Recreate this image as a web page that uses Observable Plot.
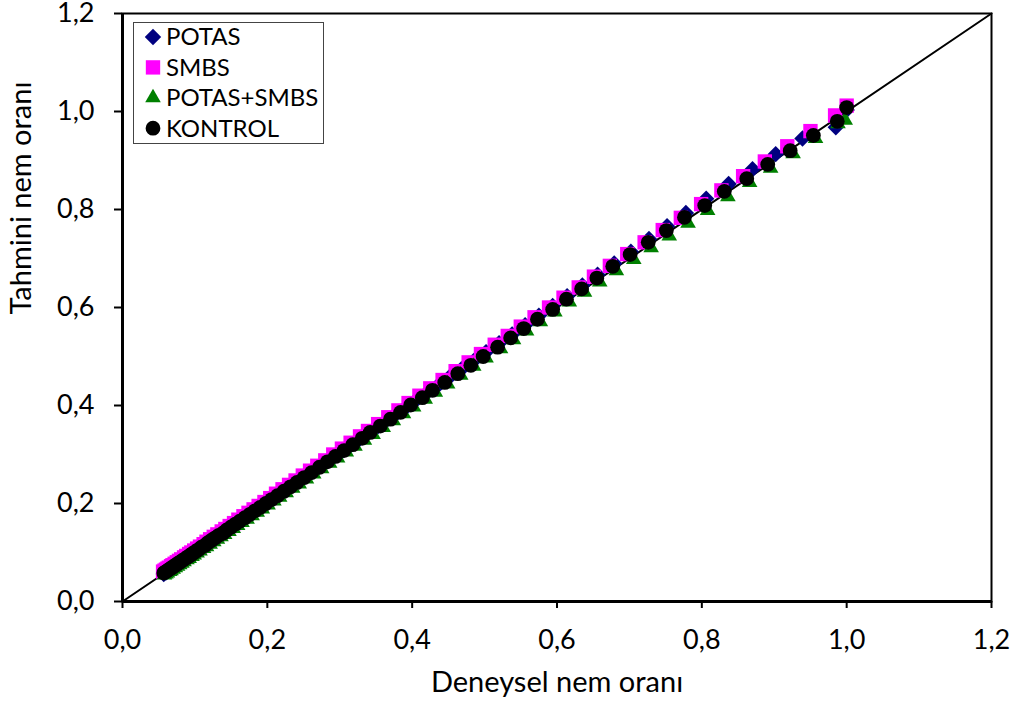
<!DOCTYPE html>
<html><head><meta charset="utf-8">
<script src="https://cdn.jsdelivr.net/npm/d3@7"></script>
<script src="https://cdn.jsdelivr.net/npm/@observablehq/plot@0.6"></script>
<style>
body{margin:0;background:#fff;font-family:Lato,sans-serif;}
#wrap{position:relative;width:1021px;height:706px;}
#legend{position:absolute;left:0;top:0;}
</style></head><body><div id="wrap"></div>
<script>
const seriesNames = ["POTAS", "SMBS", "POTAS+SMBS", "KONTROL"];
const seriesColors = ["#000080", "#ff00ff", "#008000", "#000000"];
const seriesSymbols = ["diamond2", "square", "triangle", "circle"];
const seriesR = [7.4, 8.1, 5.8, 7.4];

const xTicks = [0, 0.2, 0.4, 0.6, 0.8, 1.0, 1.2];
const yTicks = [0, 0.2, 0.4, 0.6, 0.8, 1.0, 1.2];
const refLine = [0, 1.2];

const potasExp = [1.000,0.985,0.939,0.902,0.870,0.837,0.806,0.778,0.752,0.727,0.702,0.679,0.656,0.635,0.614,0.594,0.575,0.556,0.538,0.520,0.502,0.485,0.468,0.451,0.435,0.419,0.404,0.390,0.376,0.362,0.349,0.336,0.324,0.312,0.300,0.289,0.278,0.268,0.258,0.248,0.239,0.230,0.221,0.213,0.205,0.197,0.190,0.183,0.176,0.169,0.163,0.157,0.151,0.145,0.140,0.134,0.129,0.124,0.119,0.115,0.110,0.106,0.102,0.098,0.095,0.091,0.088,0.084,0.081,0.078,0.075,0.072,0.069,0.067,0.064,0.062,0.060,0.057];
const potasPred = [1.003,0.968,0.945,0.913,0.882,0.852,0.822,0.793,0.766,0.740,0.714,0.690,0.667,0.645,0.623,0.603,0.583,0.564,0.545,0.527,0.509,0.491,0.474,0.457,0.440,0.424,0.409,0.394,0.380,0.366,0.352,0.339,0.327,0.314,0.302,0.291,0.280,0.270,0.259,0.249,0.240,0.231,0.222,0.214,0.206,0.198,0.190,0.183,0.176,0.169,0.163,0.157,0.151,0.145,0.139,0.134,0.129,0.124,0.119,0.114,0.110,0.106,0.102,0.098,0.094,0.091,0.087,0.084,0.081,0.078,0.075,0.072,0.069,0.066,0.064,0.061,0.059,0.056];

const smbsExp = [1.000,0.984,0.950,0.918,0.887,0.857,0.827,0.799,0.771,0.746,0.721,0.697,0.673,0.651,0.630,0.609,0.589,0.569,0.550,0.532,0.514,0.495,0.478,0.460,0.442,0.425,0.410,0.395,0.381,0.367,0.353,0.339,0.328,0.315,0.303,0.291,0.280,0.269,0.259,0.249,0.239,0.230,0.221,0.212,0.204,0.196,0.188,0.181,0.174,0.167,0.160,0.154,0.148,0.142,0.137,0.131,0.126,0.121,0.116,0.112,0.107,0.103,0.099,0.095,0.092,0.088,0.085,0.081,0.078,0.075,0.072,0.069,0.067,0.064,0.062,0.060,0.058,0.056];
const smbsPred = [1.012,0.992,0.960,0.929,0.898,0.868,0.839,0.811,0.783,0.758,0.733,0.709,0.685,0.663,0.641,0.620,0.600,0.580,0.561,0.542,0.524,0.505,0.488,0.470,0.452,0.435,0.420,0.405,0.390,0.376,0.362,0.348,0.337,0.324,0.312,0.300,0.288,0.277,0.267,0.257,0.247,0.238,0.229,0.220,0.211,0.203,0.195,0.188,0.181,0.174,0.167,0.160,0.154,0.148,0.143,0.137,0.132,0.127,0.122,0.117,0.112,0.108,0.104,0.100,0.097,0.093,0.090,0.086,0.083,0.080,0.077,0.074,0.072,0.069,0.067,0.065,0.063,0.061];

const mixExp = [0.998,0.988,0.957,0.926,0.895,0.866,0.836,0.808,0.781,0.755,0.730,0.706,0.682,0.659,0.638,0.617,0.597,0.577,0.558,0.540,0.522,0.502,0.485,0.467,0.449,0.432,0.418,0.402,0.388,0.374,0.360,0.346,0.334,0.321,0.309,0.297,0.286,0.275,0.264,0.254,0.244,0.235,0.226,0.217,0.209,0.201,0.193,0.186,0.179,0.172,0.165,0.159,0.153,0.147,0.141,0.136,0.131,0.126,0.121,0.116,0.112,0.107,0.103,0.099,0.096,0.092,0.089,0.085,0.082,0.079,0.076,0.073,0.070,0.067,0.065,0.062,0.060,0.058];
const mixPred = [0.982,0.975,0.945,0.914,0.884,0.855,0.826,0.798,0.772,0.746,0.722,0.698,0.675,0.652,0.631,0.611,0.591,0.571,0.552,0.534,0.516,0.497,0.480,0.462,0.444,0.427,0.413,0.397,0.383,0.369,0.355,0.341,0.329,0.317,0.305,0.293,0.282,0.271,0.260,0.250,0.240,0.231,0.222,0.213,0.205,0.197,0.189,0.182,0.175,0.168,0.161,0.155,0.149,0.143,0.137,0.132,0.127,0.122,0.117,0.112,0.108,0.103,0.099,0.095,0.092,0.088,0.085,0.081,0.078,0.075,0.072,0.069,0.066,0.063,0.061,0.058,0.056,0.054];

const kontrolExp = [1.000,0.987,0.954,0.922,0.891,0.862,0.831,0.804,0.776,0.751,0.726,0.701,0.677,0.655,0.634,0.613,0.594,0.573,0.554,0.536,0.518,0.498,0.481,0.463,0.445,0.428,0.414,0.398,0.384,0.370,0.356,0.342,0.331,0.318,0.306,0.294,0.283,0.272,0.261,0.251,0.241,0.232,0.223,0.214,0.206,0.198,0.190,0.183,0.176,0.169,0.162,0.156,0.150,0.144,0.139,0.133,0.128,0.123,0.118,0.114,0.109,0.105,0.101,0.097,0.094,0.090,0.087,0.083,0.080,0.077,0.074,0.071,0.068,0.066,0.063,0.061,0.059,0.057];
const kontrolPred = [1.008,0.980,0.951,0.920,0.892,0.863,0.837,0.808,0.784,0.757,0.733,0.708,0.684,0.660,0.638,0.617,0.596,0.576,0.557,0.538,0.519,0.500,0.482,0.465,0.447,0.431,0.416,0.401,0.386,0.372,0.358,0.345,0.333,0.320,0.308,0.296,0.285,0.274,0.263,0.253,0.243,0.234,0.225,0.216,0.208,0.200,0.192,0.185,0.178,0.171,0.164,0.158,0.152,0.146,0.140,0.135,0.130,0.125,0.120,0.115,0.111,0.106,0.102,0.098,0.095,0.091,0.088,0.084,0.081,0.078,0.075,0.072,0.069,0.067,0.064,0.062,0.060,0.058];

const seriesExp = [potasExp, smbsExp, mixExp, kontrolExp];
const seriesPred = [potasPred, smbsPred, mixPred, kontrolPred];

const fmt = d => d.toFixed(1).replace(".", ",");

const tables = seriesExp.map((ex, i) =>
  ex.slice(0, Math.min(ex.length, seriesPred[i].length)).map((x, j) => ({x, y: seriesPred[i][j]})));

const dotMarks = tables.map((t, i) => Plot.dot(t, {
  x: "x", y: "y", symbol: seriesSymbols[i], r: seriesR[i],
  fill: seriesColors[i], stroke: "none"
}));

const W = 1021, H = 706;
const chart = Plot.plot({
  width: W, height: H,
  marginLeft: 122, marginRight: 30, marginTop: 13, marginBottom: 105,
  style: {fontFamily: "Lato, sans-serif", fontSize: "27px", color: "#000", background: "#fff", overflow: "visible"},
  x: {domain: [0, 1.2]},
  y: {domain: [0, 1.2]},
  marks: [
    Plot.line(refLine, {x: d => d, y: d => d, stroke: "#000", strokeWidth: 2}),
    ...dotMarks,
    Plot.frame({stroke: "#000", strokeWidth: 2}),
    Plot.ruleX([0], {stroke: "#000", strokeWidth: 3}),
    Plot.ruleY([0], {stroke: "#000", strokeWidth: 3}),
    Plot.axisX({ticks: xTicks, tickFormat: fmt, tickSize: 7, tickPadding: 21, fontSize: 27, label: null, strokeWidth: 2}),
    Plot.axisY({ticks: yTicks, tickFormat: fmt, tickSize: 8, tickPadding: 20, fontSize: 27, label: null, strokeWidth: 2}),
    Plot.text(["Deneysel nem oranı"], {frameAnchor: "bottom", dy: 81, lineAnchor: "middle", fontSize: 29, fill: "#000"}),
    Plot.text(["Tahmini nem oranı"], {frameAnchor: "left", dx: -101, dy: 7, rotate: -90, lineAnchor: "middle", fontSize: 29, fill: "#000"})
  ]
});
const wrap = document.getElementById("wrap");
wrap.appendChild(chart);

// legend overlay
const lg = d3.select(wrap).append("svg").attr("id", "legend")
  .attr("width", W).attr("height", H).style("pointer-events", "none");
lg.append("rect").attr("x", 133.5).attr("y", 22.5).attr("width", 190).attr("height", 121)
  .attr("fill", "#fff").attr("stroke", "#444").attr("stroke-width", 1);
const symMap = {diamond2: d3.symbolDiamond2, square: d3.symbolSquare, triangle: d3.symbolTriangle, circle: d3.symbolCircle};
seriesNames.forEach((name, i) => {
  const cy = 37 + i * 30.4;
  lg.append("path")
    .attr("d", d3.symbol(symMap[seriesSymbols[i]], Math.PI * seriesR[i] * seriesR[i])())
    .attr("transform", `translate(153,${cy})`)
    .attr("fill", seriesColors[i]);
  lg.append("text").attr("x", 166).attr("y", cy).attr("dy", "0.35em")
    .attr("font-family", "Lato, sans-serif").attr("font-size", 24).attr("fill", "#000")
    .text(name);
});
</script></body></html>
